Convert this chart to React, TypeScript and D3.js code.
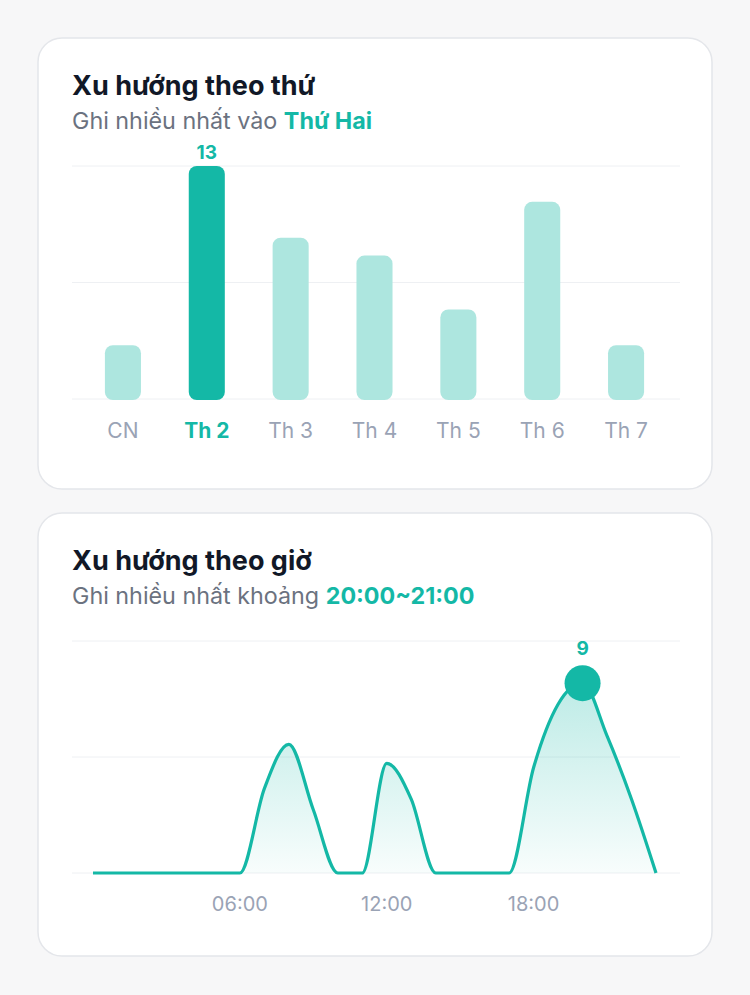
import { scaleBand, scaleLinear, area, line, curveMonotoneX } from "d3";

// day-of-week chart
const days = ["CN", "Th 2", "Th 3", "Th 4", "Th 5", "Th 6", "Th 7"];
const dayCounts = [3, 13, 9, 8, 5, 11, 3];

// hour-of-day chart
const hours = [0, 1, 2, 3, 4, 5, 6, 7, 8, 9, 10, 11, 12, 13, 14, 15, 16, 17, 18, 19, 20, 21, 22, 23];
const hourCounts = [0, 0, 0, 0, 0, 0, 0, 4, 6.1, 3, 0, 0, 5.2, 3.5, 0, 0, 0, 0, 5, 8, 9, 6.5, 3.5, 0];
const hourTicks = [6, 12, 18];
const hourTickLabels = ["06:00", "12:00", "18:00"];

const TEAL = "#14b8a6";
const TEAL_LIGHT = "#ade6df";
const GRID = "#eef0f3";
const FONT = "Inter, 'Noto Sans', sans-serif";

export default function App() {
  const peakDay = dayCounts.indexOf(Math.max(...dayCounts));
  const peakHour = hourCounts.indexOf(Math.max(...hourCounts));

  let xBand = scaleBand<string>()
    .domain(days)
    .range([81, 668])
    .paddingInner(0.57)
    .paddingOuter(0.285);
  let yBar = scaleLinear().domain([0, 13]).range([399, 166]);

  let xHour = scaleLinear().domain([0, 23]).range([93, 656]);
  let yHour = scaleLinear().domain([0, 11]).range([873, 641]);

  let pts = hours.map((h, i) => ({ h, v: hourCounts[i] }));
  let lineD = line<(typeof pts)[number]>()
    .x((d) => xHour(d.h))
    .y((d) => yHour(d.v))
    .curve(curveMonotoneX)(pts);
  let areaD = area<(typeof pts)[number]>()
    .x((d) => xHour(d.h))
    .y0(yHour(0))
    .y1((d) => yHour(d.v))
    .curve(curveMonotoneX)(pts);

  return (
    <svg
      width={750}
      height={995}
      viewBox="0 0 750 995"
      style={{ position: "absolute", left: 0, top: 0, fontFamily: FONT }}
    >
      <defs>
        <linearGradient id="hourFill" x1="0" y1="0" x2="0" y2="1">
          <stop offset="0%" stopColor={TEAL} stopOpacity={0.28} />
          <stop offset="100%" stopColor={TEAL} stopOpacity={0.03} />
        </linearGradient>
      </defs>
      <rect x={0} y={0} width={750} height={995} fill="#f7f7f8" />

      {/* Card 1 */}
      <rect x={38} y={38} width={674} height={451} rx={24} fill="#fff" stroke="#e4e6ea" strokeWidth={1.5} />
      <text x={72} y={95} fontSize={27} fontWeight={700} fill="#111827">
        Xu hướng theo thứ
      </text>
      <text x={72} y={129} fontSize={23.3} fill="#6b7280">
        Ghi nhiều nhất vào{" "}
        <tspan fontWeight={700} fill={TEAL}>
          Thứ Hai
        </tspan>
      </text>
      {[0, 6.5, 13].map((t, i) => (
        <line key={i} x1={72} x2={680} y1={yBar(t)} y2={yBar(t)} stroke={GRID} strokeWidth={1} />
      ))}
      {days.map((d, i) => (
        <rect
          key={d}
          x={xBand(d)}
          y={yBar(dayCounts[i])}
          width={xBand.bandwidth()}
          height={yBar(0) - yBar(dayCounts[i]) + 1}
          rx={8}
          fill={i === peakDay ? TEAL : TEAL_LIGHT}
        />
      ))}
      <text
        x={(xBand(days[peakDay]) ?? 0) + xBand.bandwidth() / 2}
        y={yBar(dayCounts[peakDay]) - 7}
        textAnchor="middle"
        fontSize={19}
        fontWeight={700}
        fill={TEAL}
      >
        {dayCounts[peakDay]}
      </text>
      {days.map((d, i) => (
        <text
          key={d}
          x={(xBand(d) ?? 0) + xBand.bandwidth() / 2}
          y={438}
          textAnchor="middle"
          fontSize={21}
          fontWeight={i === peakDay ? 700 : 400}
          fill={i === peakDay ? TEAL : "#9aa3b5"}
        >
          {d}
        </text>
      ))}

      {/* Card 2 */}
      <rect x={38} y={513} width={674} height={443} rx={24} fill="#fff" stroke="#e4e6ea" strokeWidth={1.5} />
      <text x={72} y={570} fontSize={27} fontWeight={700} fill="#111827">
        Xu hướng theo giờ
      </text>
      <text x={72} y={604} fontSize={23.3} fill="#6b7280">
        Ghi nhiều nhất khoảng{" "}
        <tspan fontWeight={700} fill={TEAL}>
          20:00~21:00
        </tspan>
      </text>
      {[0, 5.5, 11].map((t, i) => (
        <line key={i} x1={72} x2={680} y1={yHour(t)} y2={yHour(t)} stroke={GRID} strokeWidth={1} />
      ))}
      <path d={areaD ?? ""} fill="url(#hourFill)" />
      <path d={lineD ?? ""} fill="none" stroke={TEAL} strokeWidth={3.2} strokeLinejoin="round" />
      <circle cx={xHour(peakHour)} cy={yHour(hourCounts[peakHour])} r={18} fill={TEAL} />
      <text
        x={xHour(peakHour)}
        y={yHour(hourCounts[peakHour]) - 28}
        textAnchor="middle"
        fontSize={19}
        fontWeight={700}
        fill={TEAL}
      >
        {hourCounts[peakHour]}
      </text>
      {hourTicks.map((h, i) => (
        <text key={h} x={xHour(h)} y={911} textAnchor="middle" fontSize={20} fill="#9aa3b5">
          {hourTickLabels[i]}
        </text>
      ))}
    </svg>
  );
}
